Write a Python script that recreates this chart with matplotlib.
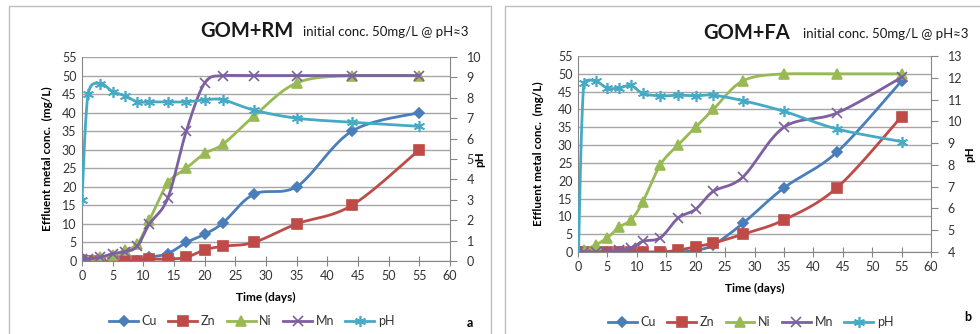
import numpy as np
import matplotlib
matplotlib.use("Agg")
import matplotlib.pyplot as plt
from matplotlib.patches import Rectangle
from matplotlib.lines import Line2D

plt.rcParams['font.family'] = ['Lato', 'DejaVu Sans']

# sampling days
days = [0, 1, 3, 5, 7, 9, 11, 14, 17, 20, 23, 28, 35, 44, 55]

# panel a: GOM+RM
rm_cu = [0, 0, 0, 0, 0, 0, 1, 2, 5, 7.2, 10.3, 18, 20, 35, 40]
rm_zn = [0, 0, 0, 0, 0, 0, 0.5, 0.5, 1, 3, 4, 5, 10, 15, 30]
rm_ni = [0, 0, 1, 1.5, 3, 4.5, 11, 21, 25, 29, 31.5, 39, 48, 50, 50]
rm_mn = [0.5, 0.5, 1, 2, 2.5, 4, 10, 17, 35, 48, 50, 50, 50, 50, 50]
rm_ph = [3, 8.2, 8.7, 8.3, 8.1, 7.8, 7.8, 7.8, 7.8, 7.9, 7.9, 7.4, 7.0, 6.8, 6.6]

# panel b: GOM+FA
fa_cu = [0, 0, 0, 0, 0, 0, 0, 0, 0, 0.5, 2, 8, 18, 28, 48]
fa_zn = [0, 0, 0, 0, 0, 0, 0, 0, 0.5, 1.5, 2.5, 5, 9, 18, 38]
fa_ni = [0, 0.5, 2, 4, 7, 9, 14, 24.5, 30, 35, 40, 48, 50, 50, 50]
fa_mn = [0, 0, 0, 0, 0.5, 1, 3, 4, 9.5, 12, 17, 21, 35, 39, 49]
fa_ph = [3, 11.77, 11.85, 11.53, 11.53, 11.65, 11.28, 11.17, 11.2, 11.17, 11.2, 10.95, 10.46, 9.65, 9.07]

metal_names = ['Cu', 'Zn', 'Ni', 'Mn']
colors = {'Cu': '#4A7EBB', 'Zn': '#BE4B48', 'Ni': '#98B954', 'Mn': '#7D60A0', 'pH': '#46AAC5'}
markers = {'Cu': ('D', 5), 'Zn': ('s', 7), 'Ni': ('^', 7.5), 'Mn': ('x', 7), 'pH': ((6, 2, 0), 8)}


def smooth(x, y, n=24):
    # Excel-like smoothed line (bezier through the points), control points kept near the segment
    x = np.asarray(x, float)
    y = np.asarray(y, float)
    px = np.concatenate([[x[0]], x, [x[-1]]])
    py = np.concatenate([[y[0]], y, [y[-1]]])
    t = np.linspace(0, 1, n)[:, None]
    pts = []
    for i in range(len(x) - 1):
        p0 = np.array([px[i], py[i]])
        p1 = np.array([px[i + 1], py[i + 1]])
        p2 = np.array([px[i + 2], py[i + 2]])
        p3 = np.array([px[i + 3], py[i + 3]])
        c1 = p1 + (p2 - p0) / 6
        c2 = p2 - (p3 - p1) / 6
        lo, hi = min(p1[1], p2[1]), max(p1[1], p2[1])
        pad = 0.15 * (hi - lo) + 0.1
        c1[1] = np.clip(c1[1], lo - pad, hi + pad)
        c2[1] = np.clip(c2[1], lo - pad, hi + pad)
        c1[0] = np.clip(c1[0], p1[0], p2[0])
        c2[0] = np.clip(c2[0], p1[0], p2[0])
        seg = ((1 - t) ** 3) * p1 + 3 * ((1 - t) ** 2) * t * c1 + 3 * (1 - t) * t ** 2 * c2 + t ** 3 * p2
        pts.append(seg if i == 0 else seg[1:])
    pts = np.vstack(pts)
    return pts[:, 0], pts[:, 1]


def draw_series(ax, name, y):
    c = colors[name]
    m, ms = markers[name]
    sx, sy = smooth(days, y)
    ax.plot(sx, sy, color=c, lw=2.0, solid_capstyle='round')
    ax.plot(days, y, ls='none', marker=m, ms=ms, color=c, mec=c, mew=1.2)
    return Line2D([], [], color=c, lw=2.0, marker=m, ms=ms, mec=c, mew=1.2)


def panel(rect, metals, ph, ph_lim, title, label, title_px, label_x, leg_x, leg_y, letter_xy):
    ax = fig.add_axes(rect)
    ax.set_xlim(0, 60)
    ax.set_ylim(0, 55)
    ax.set_xticks(range(0, 61, 5))
    ax.set_yticks(range(0, 56, 5))
    ax.yaxis.grid(True, color='#A6A6A6', lw=1.0)
    ax.set_axisbelow(True)
    for s in ['top', 'right']:
        ax.spines[s].set_visible(False)
    for s in ['left', 'bottom']:
        ax.spines[s].set_color('#868686')
    ax.tick_params(axis='x', direction='inout', length=7, color='#868686', labelsize=9, labelcolor='#333333', pad=3)
    ax.tick_params(axis='y', length=0, labelsize=9, labelcolor='#333333', pad=4)
    ax.set_xlabel('Time (days)', fontsize=8.5, fontweight='bold', labelpad=7)
    ax.set_ylabel('Effluent metal conc.  (mg/L)', fontsize=8.5, fontweight='bold')
    ax.yaxis.set_label_coords((label_x[0] - rect[0] * 980) / (rect[2] * 980), 0.5)

    handles = []
    for name, y in zip(metal_names, metals):
        handles.append(draw_series(ax, name, y))

    ax2 = ax.twinx()
    ax2.set_ylim(*ph_lim)
    ax2.set_yticks(range(ph_lim[0], ph_lim[1] + 1))
    for s in ['top', 'left', 'bottom']:
        ax2.spines[s].set_visible(False)
    ax2.spines['right'].set_color('#868686')
    ax2.tick_params(axis='y', direction='out', length=5, color='#868686', labelsize=9, labelcolor='#333333', pad=7)
    ax2.set_ylabel('pH', fontsize=8.5, fontweight='bold')
    ax2.yaxis.set_label_coords((label_x[1] - rect[0] * 980) / (rect[2] * 980), 0.5)
    handles.append(draw_series(ax2, 'pH', ph))

    fig.text(title_px[0] / 980, title_px[2], title[0], fontsize=14.5, fontweight='bold', color='#1a1a1a',
             va='center', ha='left')
    fig.text(title_px[1] / 980, title_px[2] - 0.004, title[1], fontsize=9.5, color='#1a1a1a', va='center', ha='left')

    fig.legend(handles, metal_names + ['pH'], loc='center', bbox_to_anchor=(leg_x, leg_y), ncol=5,
               frameon=False, fontsize=9, handlelength=2.3, columnspacing=0.9, handletextpad=0.3,
               labelcolor='#333333')
    fig.text(letter_xy[0], letter_xy[1], label, fontsize=9, fontweight='bold', ha='center', va='center')
    return ax, ax2


fig = plt.figure(figsize=(9.8, 3.34), dpi=100)

# chart frames
fig.patches.append(Rectangle((9 / 980, -0.01), 482 / 980, 1 - 6 / 334 + 0.01, transform=fig.transFigure,
                             fill=False, ec='#BFBFBF', lw=1.0))
fig.patches.append(Rectangle((505 / 980, -0.01), 0.6, 1 - 6 / 334 + 0.01, transform=fig.transFigure,
                             fill=False, ec='#BFBFBF', lw=1.0))

panel([82 / 980, 1 - 261 / 334, 368 / 980, 204 / 334],
      [rm_cu, rm_zn, rm_ni, rm_mn], rm_ph, (0, 10),
      ('GOM+RM', 'initial conc. 50mg/L @ pH\u22483'), 'a', (200, 303, 1 - 31 / 334), (53, 474),
      0.257, 0.039, (470 / 980, 1 - 323 / 334))

panel([578 / 980, 1 - 252 / 334, 353 / 980, 196 / 334],
      [fa_cu, fa_zn, fa_ni, fa_mn], fa_ph, (4, 13),
      ('GOM+FA', 'initial conc. 50mg/L @ pH\u22483'), 'b', (703, 803, 1 - 33 / 334), (544, 964),
      0.766, 0.036, (968 / 980, 1 - 317 / 334))

fig.savefig('out.png', dpi=100)
